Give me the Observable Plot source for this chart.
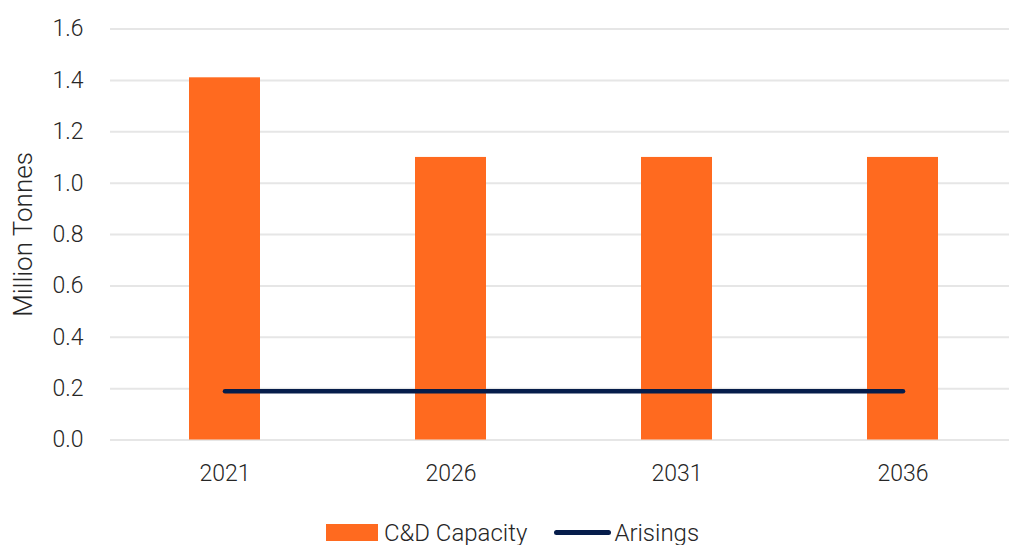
<!DOCTYPE html>
<html>
<head>
<meta charset="utf-8">
<script src="https://cdn.jsdelivr.net/npm/d3@7"></script>
<script src="https://cdn.jsdelivr.net/npm/@observablehq/plot@0.6"></script>
<style>
  body { margin: 0; background: #fff; font-family: Roboto, sans-serif; }
  #chart { width: 1009px; height: 500px; }
  #chart svg text { font-weight: 300; }
  .legend { display: flex; justify-content: center; align-items: center; height: 45px; margin-top: 10px; font-size: 24px; font-weight: 300; color: #262626; font-family: Roboto, sans-serif; padding-left: 16px; }
  .item { display: flex; align-items: center; }
  .sw-bar { width: 52px; height: 17px; background: #FF6A1F; margin-right: 6px; }
  .sw-line { width: 57px; height: 5px; border-radius: 3px; background: #061D4B; margin-right: 3px; margin-left: 27px; }
</style>
</head>
<body>
<div id="chart"></div>
<script>
const years = ["2021", "2026", "2031", "2036"];
const capacity = [1.41, 1.10, 1.10, 1.10];
const arisings = [0.19, 0.19, 0.19, 0.19];
const yTicks = [0, 0.2, 0.4, 0.6, 0.8, 1.0, 1.2, 1.4, 1.6];

const data = years.map((y, i) => ({year: y, capacity: capacity[i], arisings: arisings[i]}));

const plot = Plot.plot({
  width: 1009,
  height: 500,
  marginLeft: 110,
  marginRight: 0,
  marginTop: 28,
  marginBottom: 60,
  style: {fontFamily: "Roboto, sans-serif", fontSize: "22px", color: "#262626", background: "#fff"},
  x: {domain: years, range: [110, 1017], paddingInner: 0.687, paddingOuter: 0.3435, align: 0.5},
  y: {domain: [0, 1.6], range: [439.5, 28.5]},
  marks: [
    Plot.ruleY(yTicks, {stroke: "#e6e6e6", strokeWidth: 2}),
    Plot.barY(data, {x: "year", y: "capacity", fill: "#FF6A1F"}),
    Plot.line(data, {x: "year", y: "arisings", stroke: "#061D4B", strokeWidth: 4.5, strokeLinecap: "round"}),
    Plot.axisY({ticks: yTicks, tickFormat: d => d.toFixed(1), tickSize: 0, tickPadding: 27, label: null, fontSize: 23}),
    Plot.axisY({ticks: [], tickSize: 0, label: "Million Tonnes", labelAnchor: "center", labelArrow: "none", labelOffset: 97}),
    Plot.axisX({tickSize: 0, tickPadding: 24, label: null, fontSize: 23})
  ]
});
d3.select(plot).selectAll('g[aria-label="y-axis label"], g[aria-label="y-axis label"] text').attr("font-size", 26).style("font-size", "26px");
document.getElementById("chart").appendChild(plot);
</script>
<div class="legend">
  <div class="item"><div class="sw-bar"></div><span>C&amp;D Capacity</span></div>
  <div class="item"><div class="sw-line"></div><span>Arisings</span></div>
</div>
</body>
</html>
